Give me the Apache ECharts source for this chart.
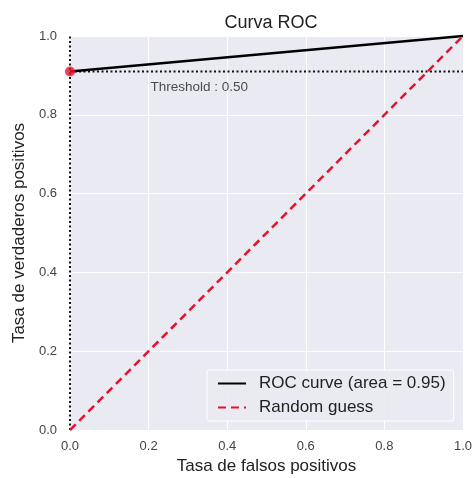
<!DOCTYPE html>
<html>
<head>
<meta charset="utf-8">
<script src="https://cdn.jsdelivr.net/npm/echarts@6/dist/echarts.min.js"></script>
<style>html,body{margin:0;padding:0;background:#fff}#c{width:472px;height:478px}</style>
</head>
<body>
<div id="c"></div>
<script>
var rocFpr = [0, 1];
var rocTpr = [0.91, 1];
var randomFpr = [0, 1];
var randomTpr = [0, 1];
var thresholdPoint = [0, 0.91];
var thresholdLabel = 'Threshold : 0.50';
var thresholdTextPos = [0.205, 0.87];
var tickValues = [0, 0.2, 0.4, 0.6, 0.8, 1.0];

function pairs(xs, ys) { return xs.map(function (x, i) { return [x, ys[i]]; }); }

var font = 'Liberation Sans, Arial, sans-serif';
var chart = echarts.init(document.getElementById('c'));
chart.setOption({
  animation: false,
  backgroundColor: '#fff',
  title: {
    text: 'Curva ROC', left: 266, top: 9, textAlign: 'center',
    textStyle: { fontFamily: font, fontSize: 18, fontWeight: 'normal', color: '#222' }
  },
  grid: { left: 70, right: 9, top: 36, bottom: 48, backgroundColor: '#EAEAF2', show: true, borderWidth: 0, containLabel: false, outerBoundsMode: 'none' },
  xAxis: {
    type: 'value', min: 0, max: 1, interval: 0.2,
    name: 'Tasa de falsos positivos', nameLocation: 'middle', nameGap: 28,
    nameTextStyle: { fontFamily: font, fontSize: 17, color: '#222' },
    axisLine: { show: false }, axisTick: { show: false },
    axisLabel: { fontFamily: font, fontSize: 13, color: '#444', margin: 10, formatter: function (v) { return v.toFixed(1); } },
    splitLine: { show: true, lineStyle: { color: '#fff', width: 1 } }
  },
  yAxis: {
    type: 'value', min: 0, max: 1, interval: 0.2,
    name: 'Tasa de verdaderos positivos', nameLocation: 'middle', nameGap: 41,
    nameTextStyle: { fontFamily: font, fontSize: 17, color: '#222' },
    axisLine: { show: false }, axisTick: { show: false },
    axisLabel: { fontFamily: font, fontSize: 13, color: '#444', margin: 13, formatter: function (v) { return v.toFixed(1); } },
    splitLine: { show: true, lineStyle: { color: '#fff', width: 1 } }
  },
  legend: {
    orient: 'vertical', left: 207, top: 370,
    backgroundColor: 'rgba(234,234,242,0.9)', borderColor: '#fff', borderWidth: 1, borderRadius: 2,
    padding: [5, 8, 5, 10], itemGap: 7, itemWidth: 28, itemHeight: 17,
    itemStyle: { opacity: 0 },
    textStyle: { fontFamily: font, fontSize: 17, color: '#222', padding: [0, 0, 0, 8] },
    data: [
      { name: 'ROC curve (area = 0.95)' },
      { name: 'Random guess' }
    ]
  },
  series: [
    {
      name: 'dotted-v', type: 'line', data: [[0, 0], [0, 1]], symbol: 'none', silent: true, clip: false,
      lineStyle: { color: '#111', width: 2, type: [2, 2.5] }, z: 3
    },
    {
      name: 'dotted-h', type: 'line', data: [[0, thresholdPoint[1]], [1, thresholdPoint[1]]], symbol: 'none', silent: true, clip: false,
      lineStyle: { color: '#111', width: 2, type: [2, 2.5] }, z: 3
    },
    {
      name: 'ROC curve (area = 0.95)', type: 'line', data: pairs(rocFpr, rocTpr), symbol: 'none', clip: false,
      lineStyle: { color: '#000', width: 2.5 }, itemStyle: { color: '#000' }, z: 4
    },
    {
      name: 'Random guess', type: 'line', data: pairs(randomFpr, randomTpr), symbol: 'none', clip: false,
      lineStyle: { color: '#e8112d', width: 2.5, type: [8, 5] }, itemStyle: { color: '#e8112d' }, z: 4
    },
    {
      name: 'thr-point', type: 'scatter', data: [thresholdPoint], symbolSize: 10, clip: false,
      itemStyle: { color: '#e8112d' }, z: 5, silent: true
    },
    {
      name: 'thr-text', type: 'scatter', data: [thresholdTextPos], symbolSize: 0, clip: false, silent: true,
      label: { show: true, position: 'right', distance: 0, formatter: thresholdLabel, fontFamily: font, fontSize: 13.5, color: '#222' }
    }
  ]
});
</script>
</body>
</html>
